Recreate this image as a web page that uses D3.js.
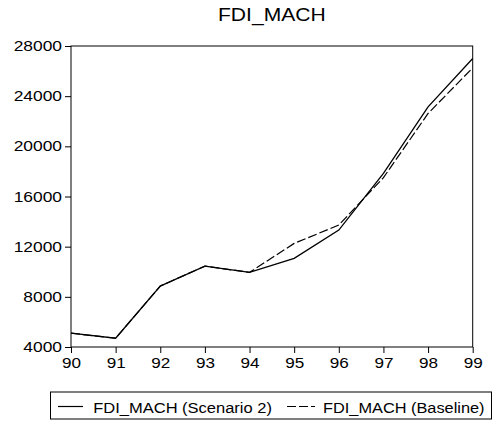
<!DOCTYPE html>
<html>
<head>
<meta charset="utf-8">
<script src="https://cdn.jsdelivr.net/npm/d3@7"></script>
<style>
  body { margin: 0; background: #fff; }
  svg { display: block; font-family: "Liberation Sans", Arial, sans-serif; }
</style>
</head>
<body>
<svg id="chart" width="494" height="421"></svg>
<script>
const years = ["90", "91", "92", "93", "94", "95", "96", "97", "98", "99"];
const scenario2 = [5100, 4700, 8860, 10450, 9950, 11070, 13320, 17850, 23150, 27000];
const baseline = [5100, 4700, 8860, 10450, 9950, 12260, 13720, 17500, 22620, 26260];
const yTicks = [4000, 8000, 12000, 16000, 20000, 24000, 28000];
const seriesNames = ["FDI_MACH (Scenario 2)", "FDI_MACH (Baseline)"];
const title = "FDI_MACH";

const svg = d3.select("#chart");
const L = 71, R = 472.7, T = 46, B = 347;

const x = d3.scalePoint().domain(years).range([L, R]).padding(0);
const y = d3.scaleLinear().domain([4000, 28000]).range([B, T]);

function stretch(sel, s) {
  sel.each(function() {
    const t = d3.select(this);
    const xx = +t.attr("x") || 0;
    const yy = +t.attr("y") || 0;
    t.attr("x", 0).attr("y", 0).attr("transform", `translate(${xx},${yy}) scale(${s},1)`);
  });
}

// y axis
const gy = svg.append("g").attr("transform", `translate(${L},0)`)
  .call(d3.axisLeft(y).tickValues(yTicks).tickFormat(d3.format("d")).tickSize(6).tickPadding(3));
gy.select(".domain").remove();
gy.selectAll("text").attr("font-size", 14.5).attr("fill", "#000").attr("font-family", null);
gy.selectAll("line").attr("stroke", "#000");
stretch(gy.selectAll("text"), 1.2);

// x axis
const gx = svg.append("g").attr("transform", `translate(0,${B})`)
  .call(d3.axisBottom(x).tickSize(6).tickPadding(5));
gx.select(".domain").remove();
gx.selectAll("text").attr("font-size", 14.5).attr("fill", "#000").attr("font-family", null);
gx.selectAll("line").attr("stroke", "#000");
stretch(gx.selectAll("text"), 1.18);

// frame
svg.append("rect").attr("x", L).attr("y", T).attr("width", R - L).attr("height", B - T)
  .attr("fill", "none").attr("stroke", "#000").attr("stroke-width", 1);

const line = d3.line().x((d, i) => x(years[i])).y(d => y(d));

svg.append("path").datum(baseline).attr("d", line)
  .attr("fill", "none").attr("stroke", "#000").attr("stroke-width", 1.2)
  .attr("stroke-dasharray", "9,3");
svg.append("path").datum(scenario2).attr("d", line)
  .attr("fill", "none").attr("stroke", "#000").attr("stroke-width", 1.3);

// title
const tt = svg.append("text").attr("x", (L + R) / 2).attr("y", 21)
  .attr("text-anchor", "middle").attr("font-size", 19).attr("fill", "#000").text(title);
stretch(tt, 1.11);

// legend
svg.append("rect").attr("x", 50.5).attr("y", 392).attr("width", 441).attr("height", 27)
  .attr("fill", "#fff").attr("stroke", "#000").attr("stroke-width", 1);
svg.append("line").attr("x1", 58).attr("x2", 83).attr("y1", 406.5).attr("y2", 406.5)
  .attr("stroke", "#000").attr("stroke-width", 1.2);
svg.append("line").attr("x1", 287).attr("x2", 315).attr("y1", 406.5).attr("y2", 406.5)
  .attr("stroke", "#000").attr("stroke-width", 1.2).attr("stroke-dasharray", "9,3");
const l1 = svg.append("text").attr("x", 93.3).attr("y", 413.3).attr("font-size", 15)
  .attr("fill", "#000").text(seriesNames[0]);
stretch(l1, 1.1);
const l2 = svg.append("text").attr("x", 323).attr("y", 413.3).attr("font-size", 15)
  .attr("fill", "#000").text(seriesNames[1]);
stretch(l2, 1.09);
</script>
</body>
</html>
